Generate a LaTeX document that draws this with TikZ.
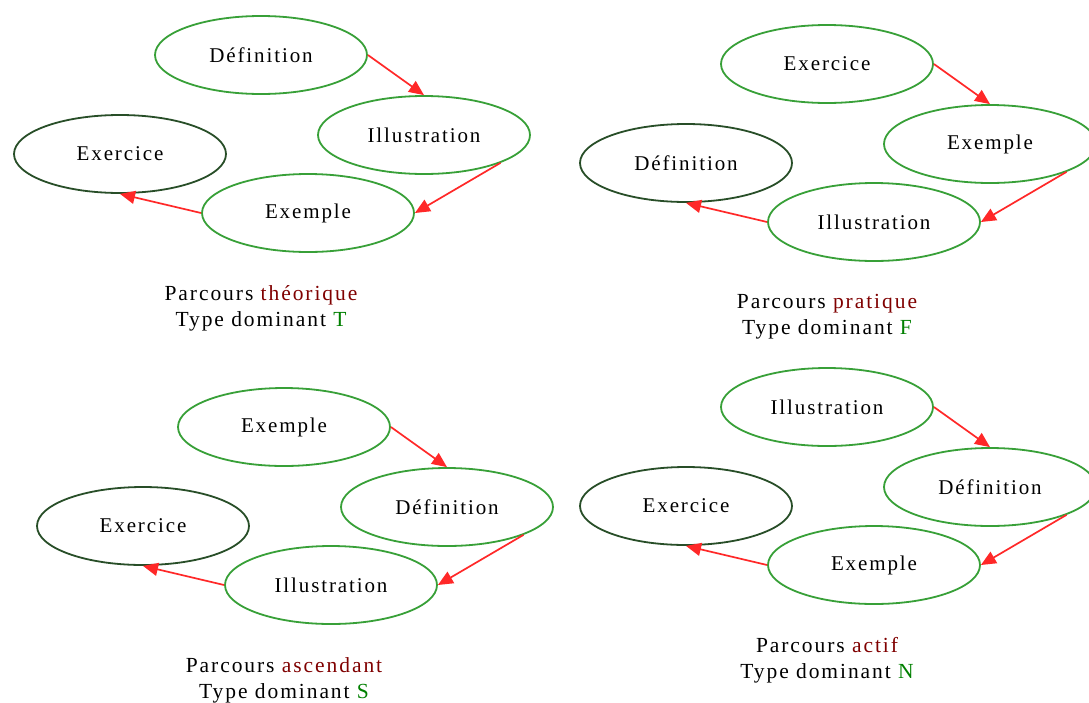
\documentclass[tikz,border=0pt]{standalone}
\usepackage{fontspec}
\setmainfont[LetterSpace=9]{Liberation Serif}
\usetikzlibrary{shapes.geometric,arrows.meta}
\definecolor{stepgreen}{RGB}{56,160,56}
\definecolor{startgreen}{RGB}{40,78,40}
\definecolor{flowred}{RGB}{255,40,40}
\definecolor{wordred}{RGB}{128,0,0}
\definecolor{lettergreen}{RGB}{0,128,0}
\tikzset{
  stepnode/.style={ellipse, draw=stepgreen, line width=1.8pt, minimum width=212pt,
    minimum height=78pt, inner sep=0pt, font=\fontsize{21}{24}\selectfont},
  lastnode/.style={stepnode, draw=startgreen},
  flow/.style={draw=flowred, line width=1.7pt, -{Triangle[length=15pt,width=13pt]}},
  caption/.style={align=center, font=\fontsize{21.5}{26}\selectfont, inner sep=0pt}
}
% one learning path: four steps linked by arrows, with its caption
\newcommand\drawparcours[8]{%
  \begin{scope}[shift={#2}]
    \node[stepnode] (#1top)   at (0,0)     {#3};
    \node[stepnode] (#1right) at (163,80)  {#4};
    \node[lastnode] (#1left)  at (-141,99) {#5};
    \node[stepnode] (#1bot)   at (47,158)  {#6};
    \draw[flow] (#1top.east) -- (#1right.north);
    \draw[flow] (#1right.-20) -- (#1bot.east);
    \draw[flow] (#1bot.west) -- (#1left.south);
    \node[caption] (#1cap) at (0,253)
      {Parcours \textcolor{wordred}{#7}\\Type dominant \textcolor{lettergreen}{#8}};
  \end{scope}}
\begin{document}
\begin{tikzpicture}[x=1pt,y=-1pt]
  \useasboundingbox[fill=white] (0,0) rectangle (1089,702);
  \drawparcours{a}{(261,55)}{Définition}{Illustration}{Exercice}{Exemple}{théorique}{T}
  \drawparcours{b}{(827,64)}{Exercice}{Exemple}{Définition}{Illustration}{pratique}{F}
  \drawparcours{c}{(284,427)}{Exemple}{Définition}{Exercice}{Illustration}{ascendant}{S}
  \drawparcours{d}{(827,407)}{Illustration}{Définition}{Exercice}{Exemple}{actif}{N}
\end{tikzpicture}
\end{document}
